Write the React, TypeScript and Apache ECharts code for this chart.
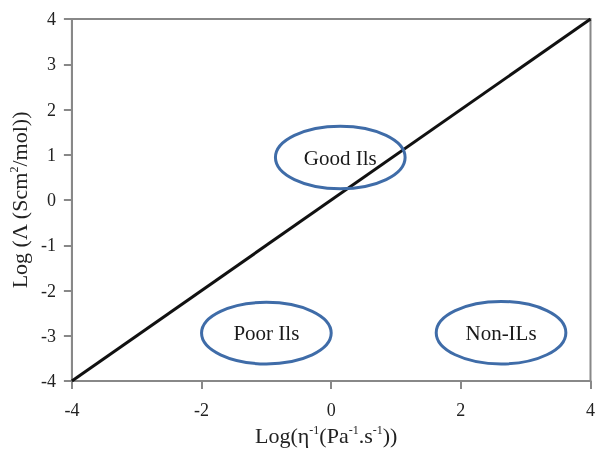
import React, { useEffect, useRef } from "react";
import * as echarts from "echarts";

const xTicks = [-4, -2, 0, 2, 4];
const yTicks = [-4, -3, -2, -1, 0, 1, 2, 3, 4];
const diagonalLine = [[-4, -4], [4, 4]];
const regionNames = ["Good Ils", "Poor Ils", "Non-ILs"];
const regionCenterX = [0.14, -1.0, 2.62];
const regionCenterY = [0.94, -2.94, -2.93];
const regionHalfWidth = [1.0, 1.0, 1.0];
const regionHalfHeight = [0.69, 0.68, 0.69];

const FONT = "'Liberation Serif', 'Times New Roman', serif";

const supRich = {
  sup: { fontFamily: FONT, fontSize: 12, color: "#222", verticalAlign: "top" },
};

export default function App() {
  const ref = useRef<HTMLDivElement>(null);
  useEffect(() => {
    document.body.style.margin = "0";
    document.body.style.overflow = "hidden";
    if (!ref.current) return;
    const chart = echarts.init(ref.current, undefined, { renderer: "svg" });
    const ellipseData = regionNames.map((n, i) => [
      regionCenterX[i],
      regionCenterY[i],
      regionHalfWidth[i],
      regionHalfHeight[i],
      n,
    ]);
    chart.setOption({
      animation: false,
      grid: {
        left: 70,
        right: 6,
        top: 19,
        bottom: 63,
        show: true,
        borderColor: "#888",
        borderWidth: 2,
        backgroundColor: "#fff",
      },
      xAxis: {
        type: "value",
        min: xTicks[0],
        max: xTicks[xTicks.length - 1],
        interval: 2,
        name: "Log(η{sup|-1}(Pa{sup|-1}.s{sup|-1}))",
        nameLocation: "middle",
        nameGap: 39,
        nameTextStyle: {
          fontFamily: FONT,
          fontSize: 22,
          color: "#222",
          rich: supRich,
          padding: [0, 10, 0, 0],
        },
        axisLine: { show: true, onZero: false, lineStyle: { color: "#888", width: 2 } },
        axisTick: { show: true, length: 8, lineStyle: { color: "#888", width: 2 } },
        axisLabel: { fontFamily: FONT, fontSize: 18, color: "#222", margin: 20 },
        splitLine: { show: false },
      },
      yAxis: {
        type: "value",
        min: yTicks[0],
        max: yTicks[yTicks.length - 1],
        interval: 1,
        name: "Log (Λ (Scm{sup|2}/mol))",
        nameLocation: "middle",
        nameGap: 33,
        nameRotate: 90,
        nameTextStyle: { fontFamily: FONT, fontSize: 22, color: "#222", rich: supRich },
        axisLine: { show: true, onZero: false, lineStyle: { color: "#888", width: 2 } },
        axisTick: { show: true, length: 8, lineStyle: { color: "#888", width: 2 } },
        axisLabel: { fontFamily: FONT, fontSize: 18, color: "#222", margin: 16 },
        splitLine: { show: false },
      },
      series: [
        {
          type: "line",
          data: diagonalLine,
          symbol: "none",
          lineStyle: { color: "#111", width: 3 },
          z: 3,
        },
        {
          type: "custom",
          data: ellipseData,
          z: 4,
          renderItem: (params: any, api: any) => {
            const c = api.coord([api.value(0), api.value(1)]);
            const s = api.size([api.value(2), api.value(3)]);
            return {
              type: "group",
              children: [
                {
                  type: "ellipse",
                  shape: { cx: c[0], cy: c[1], rx: s[0], ry: s[1] },
                  style: { fill: "none", stroke: "#3f6ca8", lineWidth: 3 },
                },
                {
                  type: "text",
                  x: c[0],
                  y: c[1],
                  style: {
                    text: regionNames[params.dataIndex],
                    fill: "#1a1a1a",
                    font: `21px ${FONT}`,
                    align: "center",
                    verticalAlign: "middle",
                  },
                },
              ],
            };
          },
        },
      ],
    });
    return () => chart.dispose();
  }, []);
  return (
    <div
      ref={ref}
      style={{ position: "fixed", left: 0, top: 0, width: 598, height: 451 }}
    />
  );
}
